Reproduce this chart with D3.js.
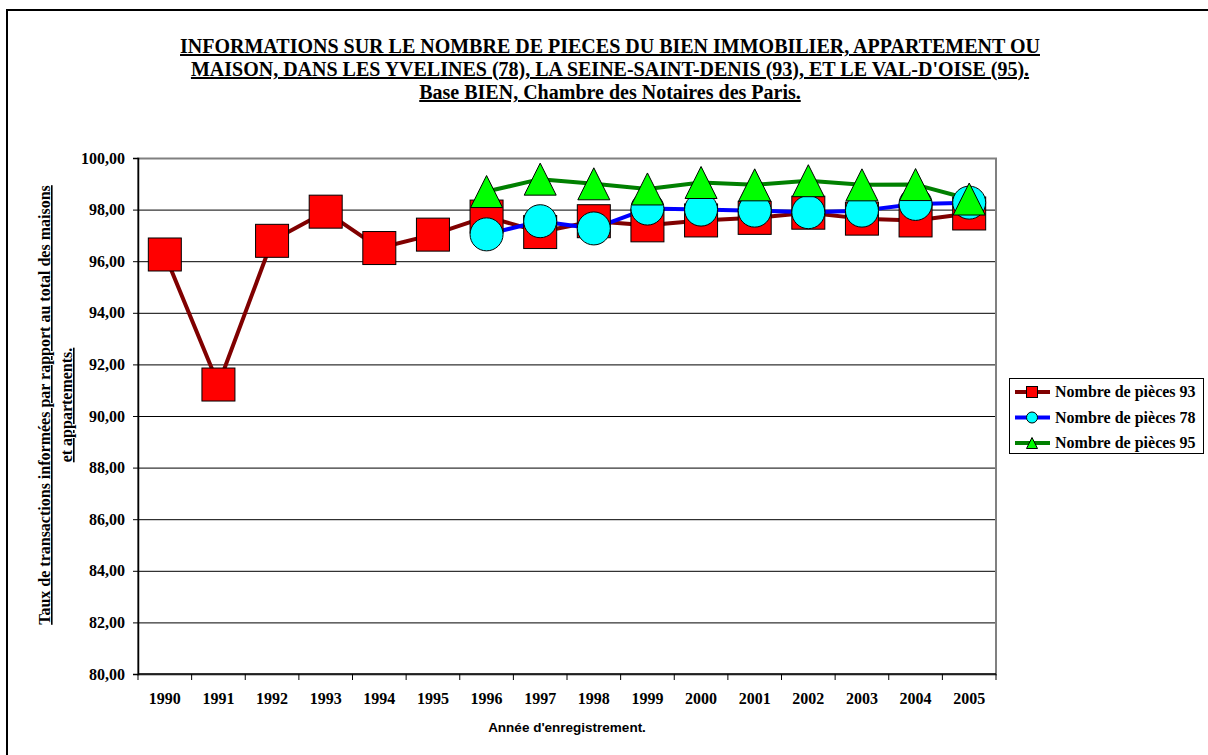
<!DOCTYPE html>
<html>
<head>
<meta charset="utf-8">
<script src="https://cdn.jsdelivr.net/npm/d3@7"></script>
<style>
	body { margin: 0; background: #fff; }
	svg text { font-family: "Liberation Serif", "Times New Roman", serif; font-weight: bold; }
</style>
</head>
<body>
<svg id="chart" width="1208" height="755"></svg>
<script>
// years on the x axis
var years = ["1990","1991","1992","1993","1994","1995","1996","1997","1998","1999","2000","2001","2002","2003","2004","2005"];
// values, null = no data
var pieces93 = [96.26, 91.22, 96.79, 97.92, 96.51, 97.03, 97.73, 97.13, 97.55, 97.39, 97.58, 97.68, 97.88, 97.65, 97.58, 97.85];
var pieces78 = [null, null, null, null, null, null, 97.04, 97.55, 97.27, 98.04, 98.0, 97.96, 97.9, 97.96, 98.22, 98.27];
var pieces95 = [null, null, null, null, null, null, 98.7, 99.18, 99.0, 98.8, 99.05, 98.96, 99.12, 98.96, 98.97, 98.41];
var yTicks = [80, 82, 84, 86, 88, 90, 92, 94, 96, 98, 100];

var titleLines = [
	"INFORMATIONS SUR LE NOMBRE DE PIECES DU BIEN IMMOBILIER, APPARTEMENT OU",
	"MAISON, DANS LES YVELINES (78), LA SEINE-SAINT-DENIS (93), ET LE VAL-D'OISE (95).",
	"Base BIEN, Chambre des Notaires des Paris."
];

var series = [
	{name: "Nombre de pièces 93", values: pieces93, line: "#800000", fill: "#ff0000", shape: "square"},
	{name: "Nombre de pièces 78", values: pieces78, line: "#0000ff", fill: "#00ffff", shape: "circle"},
	{name: "Nombre de pièces 95", values: pieces95, line: "#008000", fill: "#00ff00", shape: "triangle"}
];

var svg = d3.select("#chart");
var margin = {left: 138, top: 158, right: 996, bottom: 674};

// outer frame (only top and left show in the picture)
svg.append("rect").attr("x", 7).attr("y", 10).attr("width", 1260).attr("height", 800)
	.attr("fill", "none").attr("stroke", "#000").attr("stroke-width", 2);

var x = d3.scaleBand().domain(years).range([margin.left, margin.right]);
var y = d3.scaleLinear().domain([80, 100]).range([margin.bottom, margin.top]);

// title
var title = svg.append("g");
titleLines.forEach(function(t, i){
	title.append("text").attr("x", 610).attr("y", 53 + i * 23)
		.attr("text-anchor", "middle").style("font-size", "20px")
		.style("text-decoration", "underline").text(t);
});

// gridlines
svg.append("g").selectAll("line").data(yTicks.filter(function(d){ return d < 100; }))
	.enter().append("line")
	.attr("x1", margin.left).attr("x2", margin.right)
	.attr("y1", function(d){ return y(d) + 0.5; }).attr("y2", function(d){ return y(d) + 0.5; })
	.attr("stroke", "#000").attr("stroke-width", 1);

// plot frame
svg.append("rect").attr("x", margin.left).attr("y", margin.top + 0.5)
	.attr("width", margin.right - margin.left).attr("height", margin.bottom - margin.top)
	.attr("fill", "none").attr("stroke", "#808080").attr("stroke-width", 2);

// y axis
var yAxis = svg.append("g").attr("transform", "translate(" + margin.left + ",0)")
	.call(d3.axisLeft(y).tickValues(yTicks).tickSize(5).tickPadding(8)
		.tickFormat(function(d){ return d3.format(".2f")(d).replace(".", ","); }));
yAxis.select(".domain").attr("stroke", "#000").attr("stroke-width", 1.5);
yAxis.selectAll("text").style("font-size", "16px").attr("fill", "#000")
	.style("font-family", "Liberation Serif, serif");

// x axis: ticks on band edges
var xAxis = svg.append("g").attr("transform", "translate(0," + margin.bottom + ")");
xAxis.append("line").attr("x1", margin.left).attr("x2", margin.right)
	.attr("stroke", "#000").attr("stroke-width", 1.5);
xAxis.selectAll("line.tk").data(years.concat(["end"])).enter().append("line").attr("class", "tk")
	.attr("x1", function(d, i){ return i < years.length ? x(d) : margin.right; })
	.attr("x2", function(d, i){ return i < years.length ? x(d) : margin.right; })
	.attr("y1", 0).attr("y2", 6).attr("stroke", "#000");
xAxis.selectAll("text").data(years).enter().append("text")
	.attr("x", function(d){ return x(d) + x.bandwidth() / 2; })
	.attr("y", 30).attr("text-anchor", "middle").style("font-size", "16px").text(function(d){ return d; });

// axis titles
svg.append("text").attr("x", 567).attr("y", 732).attr("text-anchor", "middle")
	.style("font-family", "Liberation Sans, Arial, sans-serif").style("font-size", "13.5px")
	.text("Année d'enregistrement.");
var yTitle = svg.append("g").attr("transform", "translate(0,405) rotate(-90)");
yTitle.append("text").attr("x", 0).attr("y", 50).attr("text-anchor", "middle")
	.style("font-size", "16px").style("text-decoration", "underline")
	.text("Taux de transactions informées par rapport au total des maisons");
yTitle.append("text").attr("x", 0).attr("y", 72).attr("text-anchor", "middle")
	.style("font-size", "16px").style("text-decoration", "underline")
	.text("et appartements.");

// marker drawing
function marker(g, shape, size, fill){
	if(shape == "square"){
		g.append("rect").attr("x", -size / 2).attr("y", -size / 2).attr("width", size).attr("height", size)
			.attr("fill", fill).attr("stroke", "#000").attr("stroke-width", 1);
	}else if(shape == "circle"){
		g.append("circle").attr("r", size / 2).attr("fill", fill).attr("stroke", "#000").attr("stroke-width", 1);
	}else{
		var h = size;
		g.append("path").attr("d", "M0," + (-h / 2) + "L" + (size / 2) + "," + (h / 2) + "L" + (-size / 2) + "," + (h / 2) + "Z")
			.attr("fill", fill).attr("stroke", "#000").attr("stroke-width", 1);
	}
}

var line = d3.line()
	.defined(function(d){ return d.v != null; })
	.x(function(d){ return x(d.year) + x.bandwidth() / 2; })
	.y(function(d){ return y(d.v); });

series.forEach(function(s){
	var pts = years.map(function(yr, i){ return {year: yr, v: s.values[i]}; });
	svg.append("path").datum(pts).attr("d", line).attr("fill", "none")
		.attr("stroke", s.line).attr("stroke-width", 4).attr("stroke-linejoin", "round");
});
series.forEach(function(s){
	var pts = years.map(function(yr, i){ return {year: yr, v: s.values[i]}; })
		.filter(function(d){ return d.v != null; });
	pts.forEach(function(d){
		var g = svg.append("g").attr("transform", "translate(" + (x(d.year) + x.bandwidth() / 2) + "," + y(d.v) + ")");
		marker(g, s.shape, s.shape == "triangle" ? 32 : 33, s.fill);
	});
});

// legend
var legend = svg.append("g");
legend.append("rect").attr("x", 1009.5).attr("y", 378.5).attr("width", 194).attr("height", 75)
	.attr("fill", "#fff").attr("stroke", "#000").attr("stroke-width", 1);
series.forEach(function(s, i){
	var ly = 392 + i * 25.5;
	legend.append("line").attr("x1", 1015).attr("x2", 1050).attr("y1", ly).attr("y2", ly)
		.attr("stroke", s.line).attr("stroke-width", 4);
	var g = legend.append("g").attr("transform", "translate(1032," + ly + ")");
	marker(g, s.shape, 11, s.fill);
	legend.append("text").attr("x", 1055).attr("y", ly + 5).style("font-size", "16px").text(s.name);
});
</script>
</body>
</html>
